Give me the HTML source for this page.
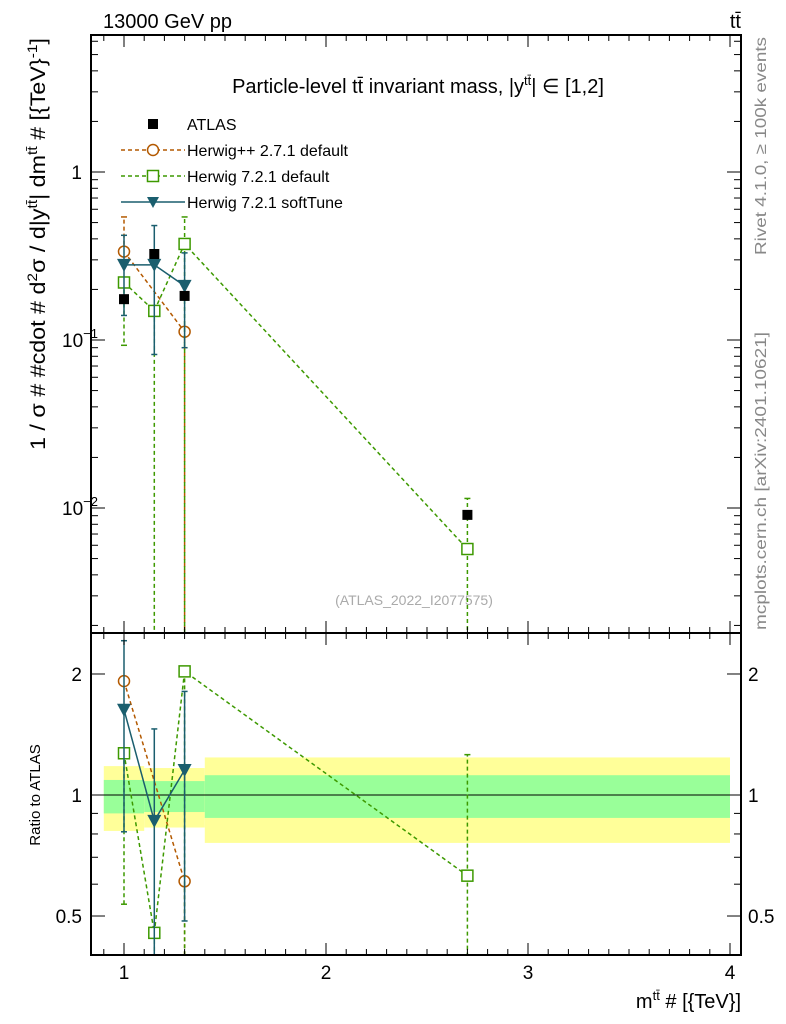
<!DOCTYPE html>
<html><head><meta charset="utf-8"><style>
html,body{margin:0;background:#fff;overflow:hidden;width:786px;height:1024px;}
svg{display:block;font-family:"Liberation Sans",sans-serif;}
</style></head><body>
<svg id="c" width="786" height="1024" viewBox="0 0 786 1024">
<defs>
<clipPath id="cm"><rect x="91" y="35" width="650" height="598"/></clipPath>
<clipPath id="cr"><rect x="91" y="633" width="650" height="322"/></clipPath>
</defs>
<text x="103" y="28" font-size="20">13000 GeV pp</text>
<text x="741" y="28" font-size="20" text-anchor="end">tt̄</text>
<text x="418" y="93" font-size="20" text-anchor="middle">Particle-level tt̄ invariant mass, |y<tspan dy="-8" font-size="13">tt̄</tspan><tspan dy="8">| ∈ [1,2]</tspan></text>
<text transform="translate(766,630) rotate(-90)" font-size="16" fill="#888" textLength="298" lengthAdjust="spacingAndGlyphs">mcplots.cern.ch [arXiv:2401.10621]</text>
<text transform="translate(766,255) rotate(-90)" font-size="16" fill="#888" textLength="218" lengthAdjust="spacingAndGlyphs">Rivet 4.1.0, ≥ 100k events</text>
<text x="414" y="605" font-size="14" fill="#aaa" text-anchor="middle">(ATLAS_2022_I2077575)</text>
<text transform="translate(45,450) rotate(-90)" font-size="21" textLength="412" lengthAdjust="spacingAndGlyphs">1 / σ # #cdot # d<tspan dy="-8" font-size="14">2</tspan><tspan dy="8">σ / d|y</tspan><tspan dy="-8" font-size="14">tt̄</tspan><tspan dy="8">| dm</tspan><tspan dy="-8" font-size="14">tt̄</tspan><tspan dy="8"> # [{TeV}</tspan><tspan dy="-8" font-size="14">-1</tspan><tspan dy="8">]</tspan></text>
<text transform="translate(40,795) rotate(-90)" font-size="15" text-anchor="middle">Ratio to ATLAS</text>
<text x="741" y="1008" font-size="20" text-anchor="end">m<tspan dy="-8" font-size="13">tt̄</tspan><tspan dy="8"> # [{TeV}]</tspan></text>
<g id="g"></g>
</svg>
<script>
const xCenters=[1.0,1.15,1.3,2.7];
const atlasVals=[0.175,0.325,0.183,0.0091];
const hppVals=[0.336,null,0.112,null];
const hppLo=[null,null,0.001,null];
const hppHi=[0.54,null,null,null];
const h7Vals=[0.22,0.149,0.373,0.0057];
const h7Lo=[0.093,0.0001,0.0001,0.0001];
const h7Hi=[null,null,0.54,0.0114];
const softVals=[0.28,0.28,0.21,null];
const softLo=[0.14,0.082,0.09,null];
const softHi=[0.42,0.48,0.33,null];
const hppRatio=[1.92,null,0.61,null];
const h7Ratio=[1.27,0.454,2.03,0.63];
const h7RLo=[0.535,0.01,0.01,0.01];
const h7RHi=[null,null,null,1.26];
const softRatio=[1.63,0.862,1.154,null];
const softRLo=[0.81,0.01,0.486,null];
const softRHi=[2.42,1.46,1.81,null];
const bandEdges=[0.9,1.1,1.4,4.0];
const yellowHi=[1.18,1.167,1.24];
const yellowLo=[0.814,0.83,0.76];
const greenHi=[1.09,1.083,1.12];
const greenLo=[0.90,0.907,0.877];
const xTicks=[1,2,3,4];
const mainTicks=[1,0.1,0.01];
const mainTickLabels=["1","10","10"];
const mainTickExp=["","−1","−2"];
const ratioTicks=[0.5,1,2];

const X=v=>124+(v-1)*202;
const YM=v=>172-168*Math.log10(v);
const YR=v=>795-402*Math.log10(v);
const NS="http://www.w3.org/2000/svg";
const G=document.getElementById('g');
function el(t,a,p){const e=document.createElementNS(NS,t);for(const k in a)e.setAttribute(k,a[k]);(p||G).appendChild(e);return e;}

const gb=el('g',{'clip-path':'url(#cr)'});


for(let i=0;i<yellowHi.length;i++){
 const r1=el('rect',{x:X(bandEdges[i]),y:YR(yellowHi[i]),width:X(bandEdges[i+1])-X(bandEdges[i]),height:YR(yellowLo[i])-YR(yellowHi[i]),fill:'#ffff99'},gb);
 
 
 const r2=el('rect',{x:X(bandEdges[i]),y:YR(greenHi[i]),width:X(bandEdges[i+1])-X(bandEdges[i]),height:YR(greenLo[i])-YR(greenHi[i]),fill:'#99ff99'},gb);
 
 
}
el('line',{x1:91,x2:741,y1:YR(1),y2:YR(1),stroke:'#000','stroke-width':1});

function series(vals,lo,hi,Y,clip,color,dash,marker,name){
 const g=el('g',{'clip-path':clip});
 
 
 const pts=[];
 vals.forEach((v,i)=>{if(v!=null)pts.push([X(xCenters[i]),Y(v)]);});
 if(color&&pts.length>1){el('polyline',{points:pts.map(p=>p.join(',')).join(' '),fill:'none',stroke:color,'stroke-width':1.5,'stroke-dasharray':dash||'none'},g);}
 vals.forEach((v,i)=>{
  if(v==null)return;const x=X(xCenters[i]),y=Y(v);const c=color||'#000';
  const yt=hi&&hi[i]!=null?Y(hi[i]):null, yb=lo&&lo[i]!=null?Y(lo[i]):null;
  if(yt!=null){el('line',{x1:x,x2:x,y1:y,y2:yt,stroke:c,'stroke-width':1.5,'stroke-dasharray':dash||'none'},g);el('line',{x1:x-3,x2:x+3,y1:yt,y2:yt,stroke:c,'stroke-width':1.5},g);}
  if(yb!=null){el('line',{x1:x,x2:x,y1:y,y2:yb,stroke:c,'stroke-width':1.5,'stroke-dasharray':dash||'none'},g);el('line',{x1:x-3,x2:x+3,y1:yb,y2:yb,stroke:c,'stroke-width':1.5},g);}
  let m;
  if(marker==='sq')m=el('rect',{x:x-5,y:y-5,width:10,height:10,fill:'#000'},g);
  else if(marker==='osq')m=el('rect',{x:x-5.5,y:y-5.5,width:11,height:11,fill:'#fff',stroke:c,'stroke-width':1.5},g);
  else if(marker==='circ')m=el('circle',{cx:x,cy:y,r:5.5,fill:'#fff',stroke:c,'stroke-width':1.5},g);
  else m=el('polygon',{points:`${x-7},${y-6} ${x+7},${y-6} ${x},${y+7}`,fill:c},g);
  
  
 });
}
const cO='#b35900',cG='#3d9900',cT='#1a5e6e';
series(hppVals,hppLo,hppHi,YM,'url(#cm)',cO,'4,3','circ','herwigpp-main');
series(h7Vals,h7Lo,h7Hi,YM,'url(#cm)',cG,'4,3','osq','herwig7-main');
series(softVals,softLo,softHi,YM,'url(#cm)',cT,null,'tri','softtune-main');
series(atlasVals,null,null,YM,'url(#cm)',null,null,'sq','atlas-main');
series(hppRatio,[null,null,0.01,null],null,YR,'url(#cr)',cO,'4,3','circ','herwigpp-ratio');
series(h7Ratio,h7RLo,h7RHi,YR,'url(#cr)',cG,'4,3','osq','herwig7-ratio');
series(softRatio,softRLo,softRHi,YR,'url(#cr)',cT,null,'tri','softtune-ratio');

el('rect',{x:91,y:35,width:650,height:598,fill:'none',stroke:'#000','stroke-width':2});
el('rect',{x:91,y:633,width:650,height:322,fill:'none',stroke:'#000','stroke-width':2});
for(let v=0.9;v<=4.01;v+=0.1){const x=X(v),maj=Math.abs(v-Math.round(v))<1e-6,L=maj?12:6;
 [[35,1],[633,-1],[633,1],[955,-1]].forEach(([y0,d])=>el('line',{x1:x,x2:x,y1:y0,y2:y0+d*L,stroke:'#000'}));}
xTicks.forEach(v=>{const t=el('text',{x:X(v),y:979,'font-size':19,'text-anchor':'middle'});t.textContent=v;
 });
for(let d=-3;d<=0;d++)for(let k=1;k<10;k++){const v=k*Math.pow(10,d);const y=YM(v);if(y<35||y>633)continue;const L=k===1?14:7;
 el('line',{x1:91,x2:91+L,y1:y,y2:y,stroke:'#000'});el('line',{x1:741,x2:741-L,y1:y,y2:y,stroke:'#000'});}
mainTicks.forEach((v,i)=>{const t=el('text',{x:mainTickExp[i]?62:82,y:YM(v)+7,'font-size':19,'text-anchor':mainTickExp[i]?'start':'end'});
 t.textContent=mainTickLabels[i];if(mainTickExp[i]){const s=el('tspan',{dy:-9,'font-size':13},t);s.textContent=mainTickExp[i];}
 });
[0.4,0.5,0.6,0.7,0.8,0.9,1,2].forEach(v=>{const y=YR(v);const L=(v===0.5||v===1||v===2)?14:7;
 el('line',{x1:91,x2:91+L,y1:y,y2:y,stroke:'#000'});el('line',{x1:741,x2:741-L,y1:y,y2:y,stroke:'#000'});});
ratioTicks.forEach(v=>{[[82,'end'],[748,'start']].forEach(([x,a])=>{const t=el('text',{x:x,y:YR(v)+7,'font-size':19,'text-anchor':a});t.textContent=v;
 });});
const leg=[['ATLAS',null,null,'sq'],['Herwig++ 2.7.1 default',cO,'4,3','circ'],['Herwig 7.2.1 default',cG,'4,3','osq'],['Herwig 7.2.1 softTune',cT,null,'tri']];
leg.forEach((e,i)=>{const y=124+i*26;const g=el('g',{});
 const x=153;
 if(e[1])el('line',{x1:121,x2:185,y1:y,y2:y,stroke:e[1],'stroke-width':1.5,'stroke-dasharray':e[2]||'none'},g);
 if(e[3]==='sq')el('rect',{x:x-5,y:y-5,width:10,height:10,fill:'#000'},g);
 else if(e[3]==='circ')el('circle',{cx:x,cy:y,r:5.5,fill:'#fff',stroke:e[1],'stroke-width':1.5},g);
 else if(e[3]==='osq')el('rect',{x:x-5.5,y:y-5.5,width:11,height:11,fill:'#fff',stroke:e[1],'stroke-width':1.5},g);
 else el('polygon',{points:`${x-6},${y-5} ${x+6},${y-5} ${x},${y+6}`,fill:e[1]},g);
 const t=el('text',{x:187,y:y+6,'font-size':16},g);t.textContent=e[0];});
</script>
</body></html>
